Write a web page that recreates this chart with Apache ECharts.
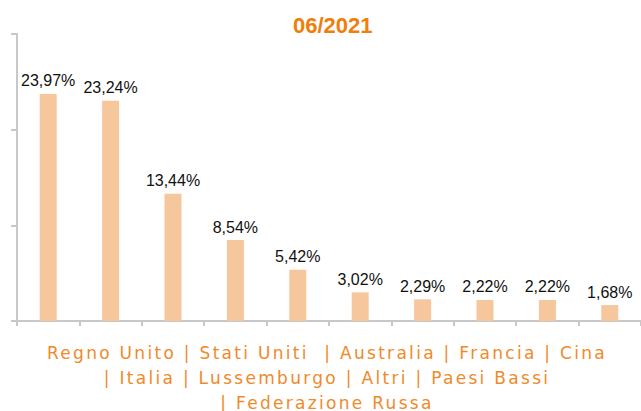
<!DOCTYPE html>
<html>
<head>
<meta charset="utf-8">
<script src="https://cdn.jsdelivr.net/npm/echarts@6/dist/echarts.min.js"></script>
<style>
  html, body { margin: 0; padding: 0; background: #fff; }
  #chart { width: 641px; height: 411px; }
  /* testo della legenda in basso: spaziatura larga come nell'originale */
  #chart text[fill="#EF8A2B"], #chart text[fill="#ef8a2b"] { letter-spacing: 2.3px; }
</style>
</head>
<body>
<div id="chart"></div>
<script>
const periodTitle = '06/2021'
const countries = ['Regno Unito', 'Stati Uniti ', 'Australia', 'Francia', 'Cina', 'Italia', 'Lussemburgo', 'Altri', 'Paesi Bassi', 'Federazione Russa']
const shares = [23.97, 23.24, 13.44, 8.54, 5.42, 3.02, 2.29, 2.22, 2.22, 1.68]

// legenda sotto l'asse, spezzata su tre righe come nell'originale
const legendLines = [
  countries.slice(0, 5).join(' | '),
  '| ' + countries.slice(5, 9).join(' | '),
  '| ' + countries[9]
]

const chart = echarts.init(document.getElementById('chart'), null, { renderer: 'svg' })

chart.setOption({
  animation: false,
  title: {
    text: periodTitle,
    left: 288,
    top: 9,
    textStyle: {
      color: '#F07E0A',
      fontFamily: 'Liberation Sans',
      fontWeight: 'bold',
      fontSize: 22
    }
  },
  graphic: [{
    type: 'text',
    x: 327,
    y: 340,
    style: {
      text: legendLines.join('\n'),
      align: 'center',
      verticalAlign: 'top',
      fill: '#EF8A2B',
      font: '17px "DejaVu Sans"',
      lineHeight: 25
    }
  }],
  grid: {
    left: 17,
    right: -7,
    top: 34,
    bottom: 90,
    containLabel: false
  },
  xAxis: {
    type: 'category',
    data: countries,
    axisLine: { lineStyle: { color: '#C8C8C8', width: 2 } },
    axisTick: { show: true, interval: 0, length: 5, lineStyle: { color: '#C8C8C8', width: 2 } },
    axisLabel: { show: false }
  },
  yAxis: {
    type: 'value',
    min: 0,
    max: 30.3,
    interval: 10.1,
    axisLine: { show: true, lineStyle: { color: '#C8C8C8', width: 2 } },
    axisTick: { show: true, length: 6, lineStyle: { color: '#C8C8C8', width: 2 } },
    axisLabel: { show: false },
    splitLine: { show: false }
  },
  series: [{
    type: 'bar',
    data: shares,
    barWidth: 17,
    itemStyle: { color: '#F6C69C' },
    label: {
      show: true,
      position: 'top',
      distance: 5,
      color: '#111',
      fontFamily: 'Liberation Sans',
      fontSize: 16,
      formatter: p => p.value.toFixed(2).replace('.', ',') + '%'
    }
  }]
})
</script>
</body>
</html>
